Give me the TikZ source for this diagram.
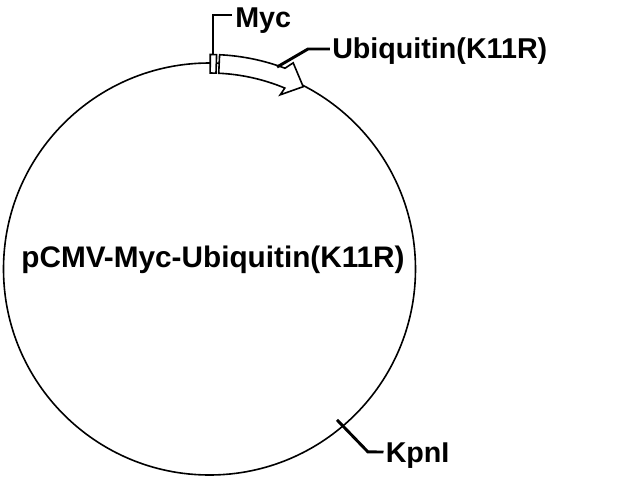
\documentclass[tikz,border=0pt]{standalone}
\usepackage{fontspec}
\setmainfont{Liberation Sans}
\usetikzlibrary{calc}

\begin{document}
\begin{tikzpicture}[x=0.75pt, y=0.75pt,
  lbl/.style={font=\bfseries\fontsize{21.5}{24}\selectfont, inner sep=0pt},
  leader/.style={line width=2.2pt}]
\useasboundingbox (-209.5,-211) rectangle (430.5,269);
% backbone
\draw[line width=1.2pt] (0,0) circle (206);
% Ubiquitin(K11R) arrow and Myc tag
\draw[line width=1.2pt, fill=white] (87.3:214.5) arc (87.3:69.4:214.5) -- (67.9:222.5) -- (62.8:205)
  -- (67.9:188) -- (67.4:196) arc (67.4:87.3:196) -- cycle;
\draw[line width=1.2pt, fill=white] (89.8:196) -- (89.8:214.5) arc (89.8:88.1:214.5) -- (88.1:196) arc (88.1:89.8:196) -- cycle;

\node[lbl, anchor=base west] (myc) at (25.5,242) {Myc};
\node[lbl, anchor=base west] (ubq) at (122.5,211) {Ubiquitin(K11R)};
\node[lbl, anchor=base west] (kpn) at (176,-193) {KpnI};
\node[lbl, font=\bfseries\fontsize{22.3}{24}\selectfont, anchor=base] (name) at (3.5,1.5) {pCMV-Myc-Ubiquitin(K11R)};

% leaders
\coordinate (myctop) at (3.5,214.5);
\coordinate (mycend) at (23,254);
\coordinate (ubqtop) at (71.5:213);
\coordinate (ubqend) at (120.5,220);
\coordinate (kpnsite) at (-49.8:197.5);
\coordinate (kpnend) at (174,-183);
\draw[leader] (myctop) |- (mycend);
\draw[leader] (ubqtop) -- (98.5,220) -- (ubqend);
\draw[leader] (kpnsite) -- (-49.1:242) -- (kpnend);
\end{tikzpicture}
\end{document}
